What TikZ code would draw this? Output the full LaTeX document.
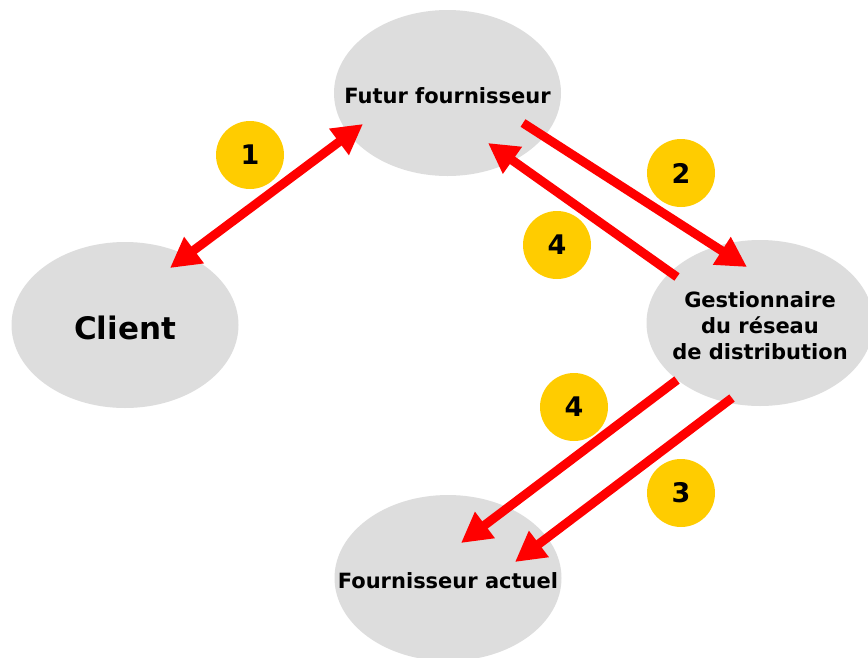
\documentclass[tikz,border=0pt]{standalone}
\usepackage{fontspec}
\setmainfont{DejaVu Sans}
\usetikzlibrary{arrows.meta,shapes.geometric}
\definecolor{ellgray}{RGB}{221,221,221}
\definecolor{numyellow}{RGB}{255,204,0}
\definecolor{arrred}{RGB}{255,0,0}
\tikzset{
  party/.style={ellipse, fill=ellgray, draw=none, minimum width=227pt, minimum height=166pt, inner sep=0pt},
  lbl/.style={font=\bfseries\fontsize{21}{26}\selectfont, align=center, inner sep=0pt, yshift=-2.5pt},
  numcirc/.style={circle, fill=numyellow, draw=none, minimum size=68pt, inner sep=0pt, font=\bfseries\fontsize{27}{27}\selectfont},
  flow/.style={draw=arrred, line width=9pt, -{Triangle[length=30pt,width=31pt]}},
  flowboth/.style={draw=arrred, line width=9pt, {Triangle[length=30pt,width=31pt]}-{Triangle[length=30pt,width=31pt]}}
}
\begin{document}
\begin{tikzpicture}[x=1pt,y=-1pt]
\useasboundingbox (0,0) rectangle (868,657);
\clip (0,0) rectangle (868,657);
\fill[white] (0,0) rectangle (868,657);
\node[party, label={[lbl]center:Futur fournisseur}] (fut) at (447.5,93) {};
\node[party, label={[lbl, font=\bfseries\fontsize{31}{31}\selectfont]center:Client}] (client) at (125,325) {};
\node[party, label={[lbl]center:Gestionnaire\\du réseau\\de distribution}] (gest) at (760,323) {};
\node[party, label={[lbl]center:Fournisseur actuel}] (act) at (448,578) {};

\node[numcirc] (n1) at (250,155) {1};
\node[numcirc] (n2) at (681,173) {2};
\node[numcirc] (n4a) at (557,245) {4};
\node[numcirc] (n4b) at (574,407) {4};
\node[numcirc] (n3) at (681,493) {3};

\draw[flowboth] ([shift={(45,-57)}]client.center) -- ([shift={(-84.5,31)}]fut.center);
\draw[flow] ([shift={(75.5,30)}]fut.center) -- ([shift={(-13,-56)}]gest.center);
\draw[flow] ([shift={(-83,-46)}]gest.center) -- ([shift={(40.5,50)}]fut.center);
\draw[flow] ([shift={(-83,57)}]gest.center) -- ([shift={(13,-35)}]act.center);
\draw[flow] ([shift={(-28,75)}]gest.center) -- ([shift={(67,-16)}]act.center);
\end{tikzpicture}
\end{document}
